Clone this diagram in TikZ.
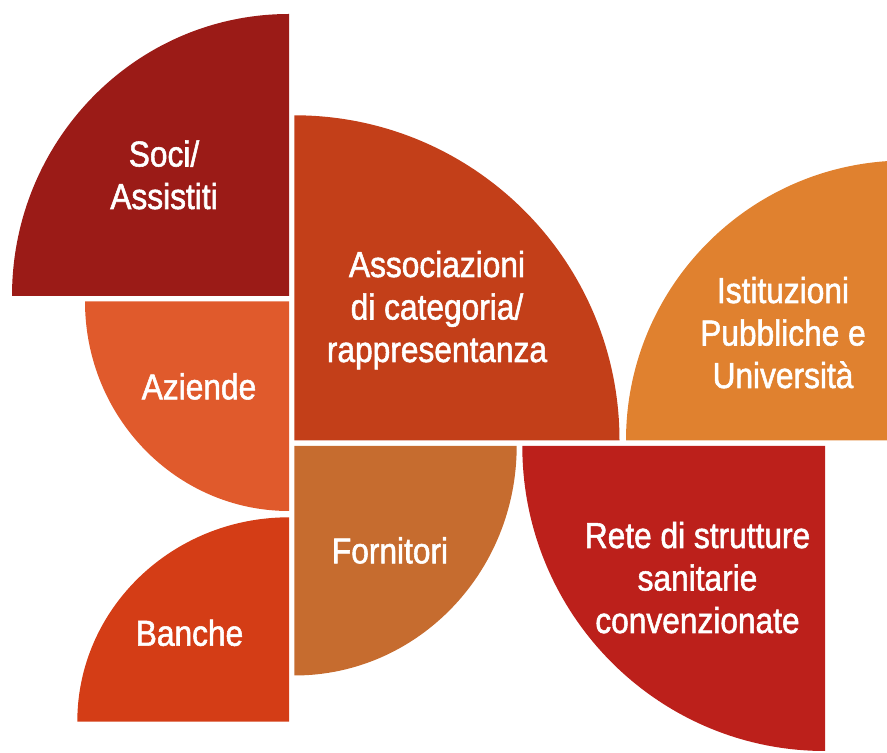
\documentclass[tikz,border=0pt]{standalone}
\usepackage{fontspec}
\setmainfont{Liberation Sans}[FakeStretch=0.88,FakeBold=1.5]
\definecolor{cSoci}{HTML}{9B1B17}
\definecolor{cAziende}{HTML}{E05A2C}
\definecolor{cBanche}{HTML}{D43D16}
\definecolor{cAssoc}{HTML}{C33F19}
\definecolor{cIstit}{HTML}{E0812F}
\definecolor{cFornit}{HTML}{C66C2F}
\definecolor{cRete}{HTML}{BC201B}
\begin{document}
\begin{tikzpicture}[x=1pt,y=1pt,
  lbl/.style={text=white, font=\fontsize{36}{42.5}\selectfont, align=center, anchor=base, inner sep=0pt}]
\useasboundingbox (0,0) rectangle (887,753);
\begin{scope}
\clip (0,0) rectangle (887,753);
\fill[cSoci] (289,457) -- (12,457) arc[start angle=180,end angle=90,x radius=277pt,y radius=282pt] -- cycle;
\fill[cAziende] (289,451.5) -- (85,451.5) arc[start angle=180,end angle=270,x radius=204pt,y radius=209.5pt] -- cycle;
\fill[cBanche] (289,31.3) -- (77.3,31.3) arc[start angle=180,end angle=90,x radius=211.7pt,y radius=204.4pt] -- cycle;
\fill[cAssoc] (294.3,312.5) -- (619.5,312.5) arc[start angle=0,end angle=90,radius=325.2pt] -- cycle;
\fill[cIstit] (906,312.5) -- (626,312.5) arc[start angle=180,end angle=90,radius=280pt] -- cycle;
\fill[cFornit] (294.3,307) -- (516.7,307) arc[start angle=0,end angle=-90,x radius=222.4pt,y radius=229.5pt] -- cycle;
\fill[cRete] (825,307) -- (522.3,307) arc[start angle=180,end angle=270,x radius=302.7pt,y radius=305pt] -- cycle;
\end{scope}
\node[lbl] (soci) at (164,544) {Soci/\\Assistiti};
\node[lbl] (aziende) at (199,353.7) {Aziende};
\node[lbl] (banche) at (189.5,107.3) {Banche};
\node[lbl] (assoc) at (437,391) {Associazioni\\di categoria/\\rappresentanza};
\node[lbl] (istit) at (783,365) {Istituzioni\\Pubbliche e\\Università};
\node[lbl] (fornit) at (390,189.7) {Fornitori};
\node[lbl] (rete) at (697.5,120) {Rete di strutture\\sanitarie\\convenzionate};
\end{tikzpicture}
\end{document}
